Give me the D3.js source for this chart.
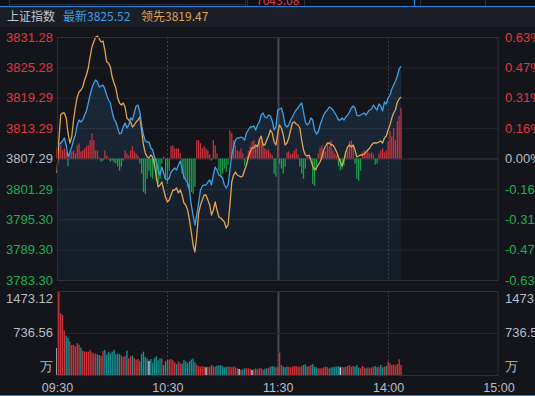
<!DOCTYPE html>
<html lang="zh">
<head>
  <meta charset="UTF-8" />
  <title>上证指数 分时</title>
  <script src="https://d3js.org/d3.v7.min.js"></script>
  <style>
    html, body {
      margin: 0;
      padding: 0;
      background: #13151b;
      overflow: hidden;
    }

    svg {
      display: block;
      font-family: "Noto Sans CJK SC", "Noto Sans", sans-serif;
    }

    .axis text {
      font-size: 13px;
    }

    .time text {
      font-size: 12.5px;
    }
  </style>
</head>
<body>
  <div id="chart"></div>
  <script>
    // ---- data ----
    const prevClose = 3807.29;
    const lastPrice = 3825.52;
    const leadPrice = 3819.47;
    const topStripValue = "7043.08";

    const priceTicks = [3831.28, 3825.28, 3819.29, 3813.29, 3807.29, 3801.29, 3795.30, 3789.30, 3783.30];
    const pctLabels = ["0.63%", "0.47%", "0.31%", "0.16%", "0.00%", "-0.16%", "-0.31%", "-0.47%", "-0.63%"];
    const volTicks = [1473.12, 736.56, 0];
    const volLabels = ["1473.12", "736.56", "万"];
    const timeTicks = [0, 60, 120, 180, 240];
    const timeLabels = ["09:30", "10:30", "11:30", "14:00", "15:00"];

    // 最新 (index), one value per minute from 09:30
    const indexLine = [
      3809.56, 3809.96, 3810.35, 3810.75, 3811.34, 3809.96, 3807.59, 3808.57, 3809.56, 3810.94,
      3811.93, 3813.91, 3814.89, 3814.50, 3814.89, 3815.88, 3816.67, 3818.25, 3819.83, 3821.21,
      3822.20, 3822.79, 3822.40, 3821.41, 3821.61, 3821.80, 3821.01, 3819.83, 3818.84, 3818.25,
      3816.47, 3815.09, 3814.50, 3813.31, 3812.13, 3812.33, 3813.51, 3814.30, 3813.31, 3813.91,
      3815.29, 3814.89, 3816.27, 3817.66, 3817.85, 3816.47, 3813.91, 3811.93, 3810.75, 3810.55,
      3810.55, 3809.36, 3808.97, 3807.59, 3806.60, 3805.02, 3804.03, 3805.61, 3804.43, 3803.24,
      3803.04, 3803.44, 3804.62, 3805.02, 3805.41, 3805.02, 3806.01, 3806.80, 3805.41, 3803.64,
      3803.04, 3802.45, 3801.07, 3798.11, 3796.13, 3794.16, 3796.33, 3798.50, 3801.07, 3801.86,
      3802.06, 3802.06, 3802.65, 3803.04, 3802.06, 3804.03, 3805.61, 3805.02, 3804.03, 3803.83,
      3803.44, 3802.06, 3801.47, 3802.06, 3805.02, 3807.98, 3809.56, 3810.94, 3811.34, 3811.34,
      3811.54, 3811.34, 3810.94, 3812.33, 3812.92, 3813.51, 3813.51, 3813.71, 3812.92, 3813.91,
      3814.50, 3815.88, 3816.27, 3815.48, 3815.29, 3815.88, 3815.68, 3814.70, 3812.92, 3813.51,
      3816.87, 3817.06, 3817.26, 3815.88, 3813.91, 3813.51, 3813.91, 3814.89, 3815.48, 3816.27,
      3816.87, 3817.26, 3817.85, 3818.25, 3816.47, 3814.50, 3813.91, 3814.30, 3815.29, 3814.89,
      3812.92, 3812.13, 3812.53, 3813.91, 3814.89, 3815.88, 3816.47, 3816.87, 3817.46, 3817.26,
      3816.87, 3816.27, 3815.68, 3814.89, 3814.89, 3815.29, 3814.89, 3815.48, 3815.88, 3816.47,
      3817.26, 3817.66, 3817.26, 3815.88, 3815.68, 3815.88, 3816.08, 3816.27, 3815.88, 3816.47,
      3816.87, 3817.06, 3817.85, 3817.26, 3816.87, 3818.05, 3817.66, 3816.67, 3818.45, 3818.05,
      3819.24, 3819.83, 3821.01, 3821.80, 3822.59, 3823.58, 3824.96, 3825.52
    ];

    // 领先 (leading index)
    const leadLine = [
      3804.43, 3810.94, 3815.88, 3816.27, 3816.27, 3815.29, 3812.33, 3810.35, 3811.54, 3814.89,
      3817.46, 3819.43, 3820.42, 3820.82, 3821.41, 3822.79, 3823.78, 3825.16, 3827.33, 3829.31,
      3830.29, 3831.28, 3831.48, 3830.89, 3830.29, 3830.49, 3828.71, 3826.34, 3826.15, 3825.36,
      3823.38, 3822.20, 3821.21, 3819.24, 3818.25, 3817.85, 3818.25, 3817.46, 3815.29, 3814.89,
      3814.50, 3813.51, 3813.91, 3814.50, 3814.89, 3815.48, 3812.92, 3809.96, 3808.38, 3807.59,
      3807.39, 3807.98, 3807.59, 3806.01, 3803.64, 3801.66, 3802.06, 3802.65, 3801.07, 3799.69,
      3798.70, 3799.10, 3800.08, 3801.07, 3801.07, 3801.47, 3800.48, 3801.07, 3800.08, 3798.50,
      3798.11, 3797.12, 3795.15, 3792.78, 3790.21, 3788.83, 3792.19, 3796.53, 3798.11, 3799.10,
      3800.08, 3800.08, 3799.10, 3798.11, 3796.13, 3797.12, 3798.70, 3797.12, 3795.74, 3795.54,
      3795.15, 3794.75, 3793.57, 3794.16, 3798.11, 3802.65, 3804.03, 3804.62, 3804.03, 3803.83,
      3803.64, 3803.83, 3805.02, 3806.01, 3807.59, 3808.57, 3809.36, 3809.36, 3809.96, 3809.56,
      3810.94, 3811.73, 3809.96, 3809.96, 3810.94, 3811.73, 3812.92, 3812.33, 3810.55, 3809.96,
      3812.33, 3813.91, 3813.31, 3811.93, 3809.96, 3810.35, 3811.34, 3812.92, 3814.30, 3814.50,
      3814.10, 3813.91, 3813.31, 3810.94, 3808.97, 3807.98, 3807.79, 3807.98, 3806.99, 3805.81,
      3805.02, 3805.41, 3806.01, 3806.60, 3807.59, 3808.97, 3809.76, 3810.35, 3810.35, 3809.96,
      3809.96, 3809.36, 3808.57, 3807.59, 3806.60, 3805.81, 3806.99, 3808.57, 3809.56, 3809.96,
      3809.56, 3809.96, 3808.97, 3807.59, 3807.79, 3807.98, 3807.98, 3808.18, 3808.57, 3808.97,
      3809.36, 3809.96, 3810.35, 3810.35, 3810.35, 3810.55, 3810.75, 3810.35, 3811.34, 3811.73,
      3812.92, 3813.91, 3815.29, 3816.27, 3816.87, 3818.45, 3819.04, 3819.47
    ];

    // red / green strength bars around the previous close
    const strength = [
      10, 12, 13, 8, 10, 6, -8, 5, 7, 8,
      5, 13, 15, 7, 8, 10, 12, 13, 18, 25,
      18, 8, 8, 1, -3, -2, 8, 3, 1, -3,
      -2, -4, -5, -8, -12, -8, -2, 8, 5, 3,
      8, 12, 7, 5, 3, -5, -15, -33, -35, -20,
      -12, -18, -20, -8, -22, -25, -20, -5, 2, -20,
      -25, -12, 12, 13, 10, 10, 10, 5, -15, -20,
      -22, -28, -30, -33, -35, -28, 18, 18, 15, 10,
      12, 10, 8, 4, -2, 18, 13, 5, -12, -18,
      -15, -10, -13, -6, 28, 25, 18, 13, 8, 7,
      10, 5, -7, 2, 8, 12, 17, 18, 13, 10,
      20, 18, 15, 10, 8, 9, 5, 3, -15, -18,
      25, -5, -10, -15, -8, 6, 7, 4, 5, 8,
      10, 4, -8, -15, -20, -10, 3, 2, 1, -25,
      -27, -12, 5, 10, 13, 8, 7, 15, 12, 18,
      8, 5, 3, -8, -12, -10, -7, 5, 8, 17,
      18, 12, -5, -20, -22, -12, 6, 8, 5, 7,
      5, 6, 4, -6, -5, 5, 8, 10, 6, 8,
      17, 27, 22, 30, 18, 37, 42, 50
    ];

    // volume per minute, 万
    const volume = [
      474, 1473, 1082, 1050, 780, 690, 650, 590, 526, 526,
      500, 560, 530, 480, 425, 409, 409, 409, 439, 392,
      380, 374, 360, 351, 335, 420, 439, 355, 409, 380,
      409, 439, 360, 375, 365, 340, 315, 335, 427, 292,
      330, 340, 300, 270, 280, 250, 370, 409, 320, 290,
      250, 280, 216, 300, 330, 260, 290, 292, 175, 240,
      260, 270, 280, 260, 220, 190, 240, 205, 200, 260,
      240, 210, 240, 270, 290, 220, 180, 158, 146, 155,
      146, 135, 146, 140, 175, 155, 146, 165, 165, 175,
      155, 135, 146, 146, 146, 135, 150, 135, 117, 105,
      90, 100, 117, 117, 117, 110, 90, 100, 115, 100,
      117, 117, 95, 110, 117, 125, 146, 158, 146, 135,
      146, 391, 175, 146, 135, 146, 146, 135, 146, 158,
      158, 146, 146, 158, 175, 187, 146, 158, 175, 193,
      146, 135, 117, 117, 117, 135, 146, 135, 117, 135,
      135, 146, 146, 158, 135, 146, 135, 146, 158, 175,
      146, 158, 146, 175, 135, 117, 158, 135, 117, 135,
      117, 135, 146, 158, 135, 146, 175, 135, 146, 158,
      234, 205, 175, 187, 165, 193, 275, 175
    ];

    // ---- layout ----
    const W = 535, H = 396;
    const plot = { left: 57, right: 498.5, top: 37, bottom: 280 };
    const vol = { top: 291, bottom: 375 };

    const RED = "#e2363c", GREEN = "#1fae50", GRAY = "#b9bcc4";
    const BLUE = "#3f9fe8", ORANGE = "#dfa552";

    const svg = d3.select("#chart").append("svg")
      .attr("width", W)
      .attr("height", H);

    const defs = svg.append("defs");
    const grad = defs.append("linearGradient")
      .attr("id", "areaFill")
      .attr("gradientUnits", "userSpaceOnUse")
      .attr("x1", 0).attr("x2", 0)
      .attr("y1", plot.top).attr("y2", plot.bottom);
    grad.append("stop").attr("offset", 0).attr("stop-color", "rgba(64,150,230,0.17)");
    grad.append("stop").attr("offset", 1).attr("stop-color", "rgba(64,150,230,0.05)");

    defs.append("clipPath").attr("id", "topClip")
      .append("rect").attr("x", 0).attr("y", 0).attr("width", W).attr("height", 6);

    // scales
    const x = d3.scaleLinear().domain([0, 240]).range([plot.left, plot.right]);
    const y = d3.scaleLinear().domain([priceTicks[8], priceTicks[0]]).range([plot.bottom, plot.top]);
    const ys = d3.scaleLinear().domain([-120, 120]).range([plot.bottom, plot.top]);
    const yv = d3.scaleLinear().domain([0, volTicks[0]]).range([vol.bottom, vol.top]);

    const priceColor = v => v > prevClose ? RED : (v < prevClose ? GREEN : GRAY);

    // ---- top strip + header ----
    svg.append("rect").attr("x", 0).attr("y", 0).attr("width", W).attr("height", 6).attr("fill", "#0e1015");
    const strip = svg.append("g").attr("clip-path", "url(#topClip)");
    [9, 245, 247, 304, 420, 485].forEach(px => {
      strip.append("line").attr("x1", px + 0.5).attr("x2", px + 0.5).attr("y1", 0).attr("y2", 6)
        .attr("stroke", "#2b2e38");
    });
    strip.append("line").attr("x1", 9).attr("x2", 245).attr("y1", 4.5).attr("y2", 4.5).attr("stroke", "#2b2e38");
    strip.append("line").attr("x1", 414.5).attr("x2", 414.5).attr("y1", 0).attr("y2", 6).attr("stroke", "#1e86dc");
    strip.append("text").attr("x", 256).attr("y", 5).attr("font-size", 12).attr("fill", RED).text(topStripValue);
    svg.append("line").attr("x1", 0).attr("x2", W).attr("y1", 6.5).attr("y2", 6.5).attr("stroke", "#1e86dc");

    svg.append("rect").attr("x", 0).attr("y", 7).attr("width", W).attr("height", 20).attr("fill", "#1b1e26");
    const header = svg.append("g").attr("font-size", 12);
    header.append("text").attr("x", 7).attr("y", 21).attr("fill", "#c3c5cc").text("上证指数");
    header.append("text").attr("x", 63).attr("y", 21).attr("fill", BLUE).text("最新" + lastPrice.toFixed(2));
    header.append("text").attr("x", 141).attr("y", 21).attr("fill", ORANGE).text("领先" + leadPrice.toFixed(2));

    // ---- price panel grid ----
    const grid = svg.append("g")
      .attr("transform", `translate(${plot.left},0)`)
      .call(d3.axisLeft(y).tickValues(priceTicks).tickSize(-(plot.right - plot.left)).tickFormat(""));
    grid.select(".domain").remove();
    grid.selectAll("line")
      .attr("stroke", d => d === prevClose ? "#343946" : "#22262f");

    // area under the index line
    svg.append("path")
      .datum(indexLine)
      .attr("fill", "url(#areaFill)")
      .attr("d", d3.area().x((d, i) => x(i)).y0(plot.bottom).y1(d => y(d)));

    // vertical session lines in both panels
    const vLines = [60, 120, 180];
    [[plot.top, plot.bottom], [vol.top, vol.bottom]].forEach(([t, b]) => {
      svg.append("g").selectAll("line")
        .data(vLines)
        .join("line")
        .attr("x1", d => Math.round(x(d)) + 0.5)
        .attr("x2", d => Math.round(x(d)) + 0.5)
        .attr("y1", t).attr("y2", b)
        .attr("stroke", d => d === 120 ? "#434856" : "#3a3e4b")
        .attr("stroke-width", d => d === 120 ? 2 : 1)
        .attr("stroke-dasharray", d => d === 120 ? null : "2,2");
    });

    // strength bars
    svg.append("g").selectAll("rect")
      .data(strength)
      .join("rect")
      .attr("x", (d, i) => x(i) - 0.65)
      .attr("width", 1.3)
      .attr("y", d => Math.min(ys(d), ys(0)))
      .attr("height", d => Math.abs(ys(d) - ys(0)))
      .attr("fill", d => d >= 0 ? "#c8323b" : "#1c9d4b");

    // lines
    svg.append("path")
      .datum(leadLine)
      .attr("fill", "none")
      .attr("stroke", ORANGE)
      .attr("stroke-width", 1.3)
      .attr("stroke-linejoin", "round")
      .attr("d", d3.line().x((d, i) => x(i)).y(d => y(d)));

    svg.append("path")
      .datum(indexLine)
      .attr("fill", "none")
      .attr("stroke", BLUE)
      .attr("stroke-width", 1.3)
      .attr("stroke-linejoin", "round")
      .attr("d", d3.line().x((d, i) => x(i)).y(d => y(d)));

    // panel border
    svg.append("rect")
      .attr("x", plot.left + 0.5).attr("y", plot.top + 0.5)
      .attr("width", plot.right - plot.left - 1).attr("height", plot.bottom - plot.top)
      .attr("fill", "none").attr("stroke", "#2b2f3a");

    // price axis labels
    const leftAxis = svg.append("g")
      .attr("class", "axis")
      .attr("transform", "translate(53,0)")
      .call(d3.axisLeft(y).tickValues(priceTicks).tickSize(0).tickPadding(0).tickFormat(d3.format(".2f")));
    leftAxis.select(".domain").remove();
    leftAxis.selectAll("text").attr("fill", d => priceColor(d));

    const rightAxis = svg.append("g")
      .attr("class", "axis")
      .attr("transform", "translate(505,0)")
      .call(d3.axisRight(y).tickValues(priceTicks).tickSize(0).tickPadding(0).tickFormat((d, i) => pctLabels[i]));
    rightAxis.select(".domain").remove();
    rightAxis.selectAll("text").attr("fill", d => priceColor(d));

    // ---- volume panel ----
    const vgrid = svg.append("g")
      .attr("transform", `translate(${plot.left},0)`)
      .call(d3.axisLeft(yv).tickValues([volTicks[1]]).tickSize(-(plot.right - plot.left)).tickFormat(""));
    vgrid.select(".domain").remove();
    vgrid.selectAll("line").attr("stroke", "#22262f");

    svg.append("g").selectAll("rect")
      .data(volume)
      .join("rect")
      .attr("x", (d, i) => x(i) - 0.7)
      .attr("width", 1.4)
      .attr("y", d => yv(d))
      .attr("height", d => yv(0) - yv(d))
      .attr("fill", (d, i) => {
        if (i === 0) return "#d0d0d4";
        const diff = indexLine[i] - indexLine[i - 1];
        return diff > 0 ? "#c8333b" : (diff < 0 ? "#178d8f" : "#d0d0d4");
      });

    svg.append("rect")
      .attr("x", plot.left + 0.5).attr("y", vol.top + 0.5)
      .attr("width", plot.right - plot.left - 1).attr("height", vol.bottom - vol.top)
      .attr("fill", "none").attr("stroke", "#2b2f3a");

    const volShift = d => d === volTicks[0] ? 8 : (d === 0 ? -8 : 0);
    [[d3.axisLeft, 53], [d3.axisRight, 505]].forEach(([ax, px]) => {
      const g = svg.append("g")
        .attr("class", "axis")
        .attr("transform", `translate(${px},0)`)
        .call(ax(yv).tickValues(volTicks).tickSize(0).tickPadding(0).tickFormat((d, i) => volLabels[i]));
      g.select(".domain").remove();
      g.selectAll(".tick").attr("transform", d => `translate(0,${yv(d) + volShift(d)})`);
      g.selectAll("text").attr("fill", GRAY);
    });

    // ---- time axis ----
    const tAxis = svg.append("g")
      .attr("class", "time")
      .attr("transform", "translate(0,383)")
      .call(d3.axisBottom(x).tickValues(timeTicks).tickSize(0).tickPadding(0).tickFormat((d, i) => timeLabels[i]));
    tAxis.select(".domain").remove();
    tAxis.selectAll("text").attr("fill", GRAY);

    svg.append("line").attr("x1", 0).attr("x2", W).attr("y1", 395.5).attr("y2", 395.5).attr("stroke", "#1e86dc");
  </script>
</body>
</html>
